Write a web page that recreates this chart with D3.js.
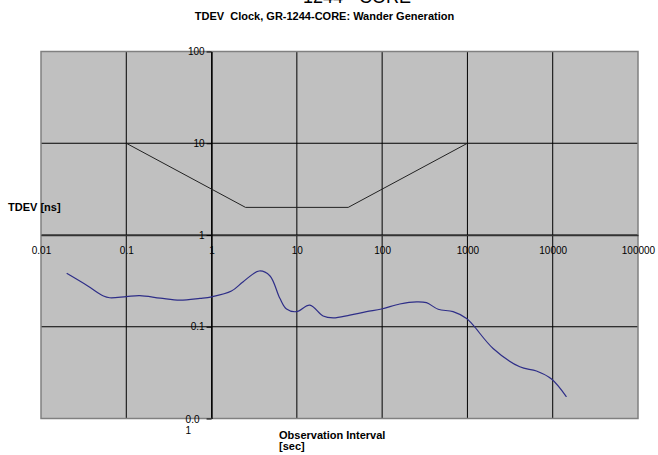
<!DOCTYPE html>
<html>
<head>
<meta charset="utf-8">
<script src="https://cdn.jsdelivr.net/npm/d3@7"></script>
<style>
html,body{margin:0;padding:0;background:#fff;}
svg{display:block;font-family:"Liberation Sans",Arial,sans-serif;}
</style>
</head>
<body>
<svg id="chart" width="658" height="455"></svg>
<script>
// ---- data ----
const titleText = "1244 - CORE";
const subtitleText = "TDEV  Clock, GR-1244-CORE: Wander Generation";
const yAxisTitle = "TDEV [ns]";
const xAxisTitleLines = ["Observation Interval", "[sec]"];

const xTicks = [0.01, 0.1, 1, 10, 100, 1000, 10000, 100000];
const xTickLabels = ["0.01", "0.1", "1", "10", "100", "1000", "10000", "100000"];
const yTicks = [0.01, 0.1, 1, 10, 100];
const yTickLabels = ["0.01", "0.1", "1", "10", "100"];

// mask (limit) line
const maskTau = [0.1, 2.5, 40, 1000];
const maskTdev = [10, 2, 2, 10];

// measured TDEV curve
const measTau = [0.02, 0.035, 0.054, 0.064, 0.1, 0.144, 0.25, 0.425, 0.73, 1, 1.71, 2.35, 3.61, 4.82, 6.32, 7.57, 9.9, 14.2, 20.3, 26.7, 41.8, 65.6, 98.4, 161, 253, 331, 454, 679, 977, 1167, 2000, 4110, 6450, 9680, 14500];
const measTdev = [0.382, 0.28, 0.216, 0.207, 0.213, 0.218, 0.205, 0.195, 0.204, 0.212, 0.245, 0.31, 0.405, 0.36, 0.204, 0.156, 0.146, 0.172, 0.131, 0.125, 0.134, 0.146, 0.156, 0.177, 0.187, 0.183, 0.155, 0.146, 0.123, 0.104, 0.058, 0.0366, 0.0329, 0.0269, 0.0172];

// ---- drawing ----
const svg = d3.select("#chart");
const L = 41, R = 638, T = 51.5, B = 418.5;
const x = d3.scaleLog().domain([0.01, 100000]).range([L, R]);
const y = d3.scaleLog().domain([0.01, 100]).range([B, T]);

// titles
svg.append("text").attr("x", 357).attr("y", 3).attr("text-anchor", "middle")
  .attr("font-size", 18).text(titleText);
svg.append("text").attr("x", 324.5).attr("y", 19.5).attr("text-anchor", "middle")
  .attr("font-size", 11).attr("font-weight", "bold").style("white-space", "pre")
  .attr("xml:space", "preserve").text(subtitleText);

// plot area
svg.append("rect").attr("x", L).attr("y", T).attr("width", R - L).attr("height", B - T)
  .attr("fill", "#c0c0c0");

// gridlines
const grid = svg.append("g").attr("stroke", "#000").attr("stroke-width", 1);
grid.selectAll("line.v").data(xTicks.slice(1, -1)).join("line")
  .attr("x1", d => x(d)).attr("x2", d => x(d)).attr("y1", T).attr("y2", B);
grid.selectAll("line.h").data(yTicks.slice(1, -1)).join("line")
  .attr("x1", L).attr("x2", R).attr("y1", d => y(d)).attr("y2", d => y(d));

// border
svg.append("rect").attr("x", L).attr("y", T).attr("width", R - L).attr("height", B - T)
  .attr("fill", "none").attr("stroke", "#808080").attr("stroke-width", 1.5);

// axes crossing at 1
const xAxis = d3.axisBottom(x).tickValues(xTicks)
  .tickFormat((d, i) => xTickLabels[i]).tickSize(0).tickPadding(12);
const gx = svg.append("g").attr("transform", `translate(0,${y(1)})`).call(xAxis);
gx.select(".domain").attr("stroke", "#333").attr("stroke-width", 1.3);
gx.selectAll("text").attr("font-size", 10).attr("font-family", "Liberation Sans, Arial, sans-serif").attr("fill", "#000");

const yAxis = d3.axisLeft(y).tickValues(yTicks)
  .tickFormat((d, i) => yTickLabels[i]).tickSize(5).tickPadding(2).tickSizeOuter(0);
const gy = svg.append("g").attr("transform", `translate(${x(1)},0)`).call(yAxis);
gy.select(".domain").attr("stroke", "#000").attr("stroke-width", 1.2);
gy.selectAll(".tick line").attr("stroke", "#000");
gy.selectAll("text").attr("font-size", 10).attr("font-family", "Liberation Sans, Arial, sans-serif").attr("fill", "#000");
// wrap the 0.01 label like the reference ("0.0" / "1")
gy.selectAll(".tick").filter(d => d === 0.01).select("text")
  .each(function () {
    const t = d3.select(this);
    t.text(null).attr("text-anchor", "start").attr("x", -26).attr("dy", null).attr("y", 0);
    t.append("tspan").attr("x", -26).attr("dy", "0.35em").text("0.0");
    t.append("tspan").attr("x", -26).attr("dy", "1.15em").text("1");
  });

// mask line
const line = d3.line().x(d => x(d[0])).y(d => y(d[1]));
svg.append("path").datum(maskTau.map((t, i) => [t, maskTdev[i]]))
  .attr("d", line).attr("fill", "none").attr("stroke", "#222").attr("stroke-width", 1);

// measured curve
const curveLine = d3.line().x(d => x(d[0])).y(d => y(d[1])).curve(d3.curveCatmullRom.alpha(0.5));
svg.append("path").datum(measTau.map((t, i) => [t, measTdev[i]]))
  .attr("d", curveLine).attr("fill", "none").attr("stroke", "#2e2e88").attr("stroke-width", 1.2);

// axis titles
svg.append("text").attr("x", 8).attr("y", 211).attr("font-size", 11).attr("font-weight", "bold")
  .text(yAxisTitle);
svg.selectAll("text.xt").data(xAxisTitleLines).join("text")
  .attr("x", 279).attr("y", (d, i) => 439 + i * 10.5)
  .attr("font-size", 11).attr("font-weight", "bold").text(d => d);
</script>
</body>
</html>
